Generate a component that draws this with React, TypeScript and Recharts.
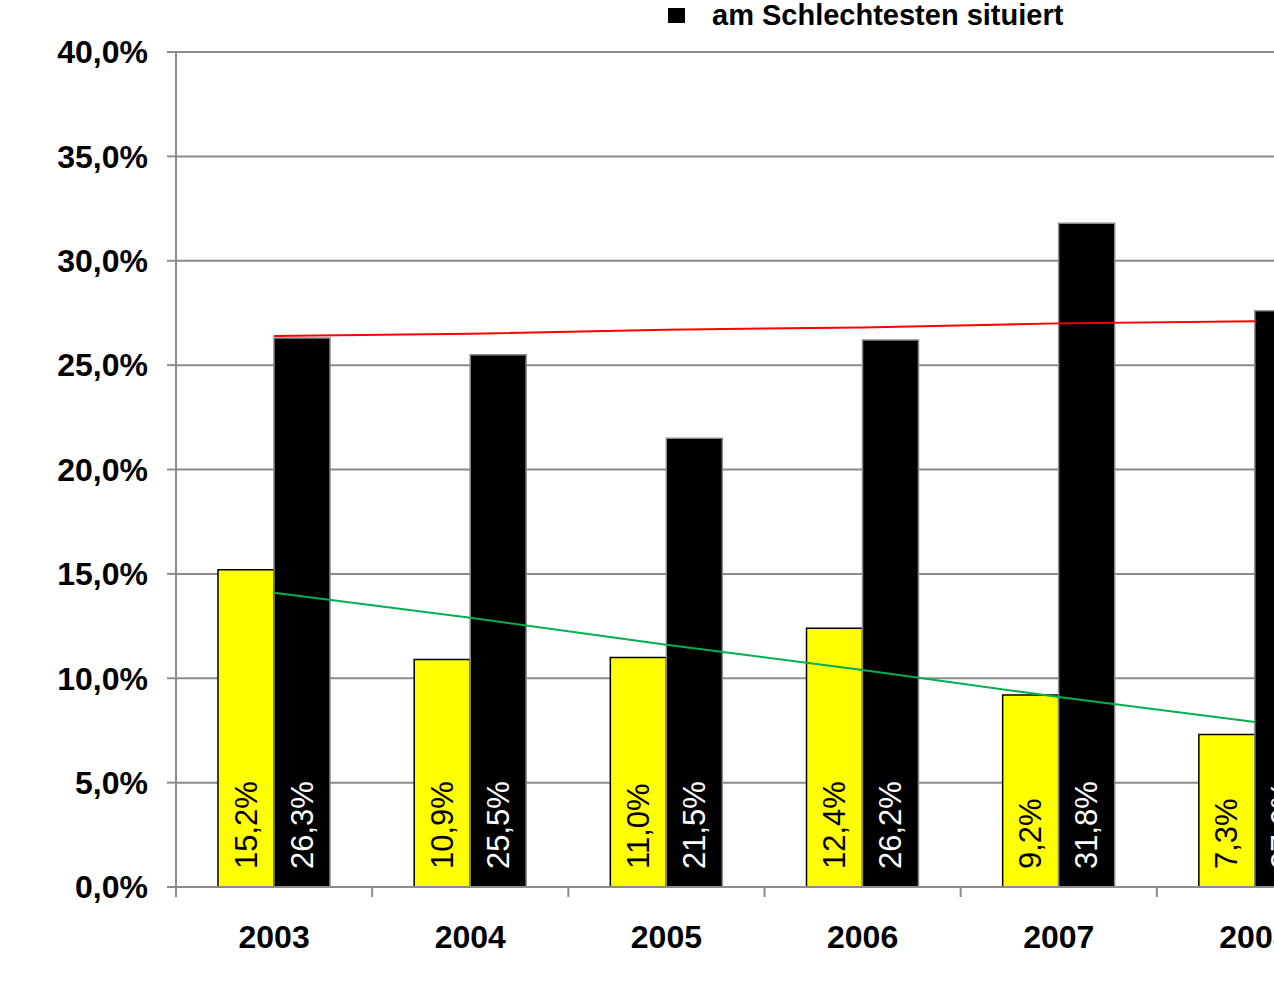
import { ComposedChart, Bar, Line, XAxis, YAxis, CartesianGrid, LabelList } from 'recharts';

const years = ['2003', '2004', '2005', '2006', '2007', '2008'];
const bestSituated = [15.2, 10.9, 11.0, 12.4, 9.2, 7.3];
const worstSituated = [26.3, 25.5, 21.5, 26.2, 31.8, 27.6];
// trend lines
const trendBest = [14.1, 12.9, 11.6, 10.4, 9.1, 7.9];
const trendWorst = [26.4, 26.5, 26.7, 26.8, 27.0, 27.1];
const yTicks = [0, 5, 10, 15, 20, 25, 30, 35, 40];

const data = years.map((year, i) => ({
  year,
  best: bestSituated[i],
  worst: worstSituated[i],
  trendBest: trendBest[i],
  trendWorst: trendWorst[i],
}));

const FONT = '"Liberation Sans", Arial, Helvetica, sans-serif';
const GRID = '#8c8c8c';
const CHART_W = 1380;
const CHART_H = 988;
const LEFT = 176;
const RIGHT = 27;
const BAND = (CHART_W - LEFT - RIGHT) / years.length;

const pct = (v: number) => v.toFixed(1).replace('.', ',') + '%';

const makeLabel = (color: string) => (props: any) => {
  const vb = props.viewBox ?? props;
  const x = Number(vb.x ?? props.x);
  const y = Number(vb.y ?? props.y);
  const w = Number(vb.width ?? props.width);
  const h = Number(vb.height ?? props.height);
  const cx = x + w / 2;
  const by = y + h - 18;
  return (
    <text
      x={cx}
      y={by}
      transform={`rotate(-90 ${cx} ${by})`}
      textAnchor="start"
      dominantBaseline="central"
      fill={color}
      fontSize={31}
      fontFamily={FONT}
    >
      {pct(Number(props.value))}
    </text>
  );
};

const YearTick = (props: any) => {
  const { x, y, payload } = props;
  const lx = x - BAND / 2;
  return (
    <g>
      <line x1={lx} x2={lx} y1={y} y2={y + 10} stroke={GRID} strokeWidth={2} />
      <text x={x} y={y + 61} textAnchor="middle" fontSize={32} fontWeight="bold" fill="#000" fontFamily={FONT}>
        {payload.value}
      </text>
    </g>
  );
};

const App = () => {
  return (
    <div
      style={{
        position: 'fixed',
        left: 0,
        top: 0,
        width: 1274,
        height: 988,
        overflow: 'hidden',
        background: '#fff',
        fontFamily: FONT,
      }}
    >
      <ComposedChart
        width={CHART_W}
        height={CHART_H}
        data={data}
        margin={{ top: 52, right: RIGHT, left: 0, bottom: 0 }}
        barGap={0}
      >
        <CartesianGrid vertical={false} stroke={GRID} strokeWidth={2} />
        <XAxis
          dataKey="year"
          height={CHART_H - 52 - 835}
          axisLine={{ stroke: GRID, strokeWidth: 2 }}
          tickLine={false}
          tickSize={0}
          tickMargin={0}
          interval={0}
          tick={<YearTick />}
        />
        <YAxis
          width={LEFT}
          domain={[0, 40]}
          ticks={yTicks}
          tickFormatter={pct}
          axisLine={{ stroke: GRID, strokeWidth: 2 }}
          tickLine={{ stroke: GRID, strokeWidth: 2 }}
          tickSize={9}
          tickMargin={19}
          tick={{ fontSize: 32, fontWeight: 'bold', fill: '#000', fontFamily: FONT }}
        />
        <Bar dataKey="best" barSize={56} fill="#ffff00" stroke="#000" strokeWidth={1.5} isAnimationActive={false}>
          <LabelList dataKey="best" content={makeLabel('#000')} />
        </Bar>
        <Bar dataKey="worst" barSize={56} fill="#000" stroke="#8a8a8a" strokeWidth={1.5} isAnimationActive={false}>
          <LabelList dataKey="worst" content={makeLabel('#fff')} />
        </Bar>
        <Line dataKey="trendBest" type="linear" stroke="#00b050" strokeWidth={2} dot={false} activeDot={false} isAnimationActive={false} />
        <Line dataKey="trendWorst" type="linear" stroke="#ff0000" strokeWidth={2} dot={false} activeDot={false} isAnimationActive={false} />
      </ComposedChart>
      <div
        style={{
          position: 'absolute',
          left: 668,
          top: 0,
          display: 'flex',
          alignItems: 'center',
          height: 30,
          fontSize: 29,
          fontWeight: 'bold',
          color: '#000',
          whiteSpace: 'nowrap',
        }}
      >
        <span style={{ display: 'inline-block', width: 17, height: 15, background: '#000', marginRight: 27 }} />
        <span>am Schlechtesten situiert</span>
      </div>
    </div>
  );
};

export default App;
